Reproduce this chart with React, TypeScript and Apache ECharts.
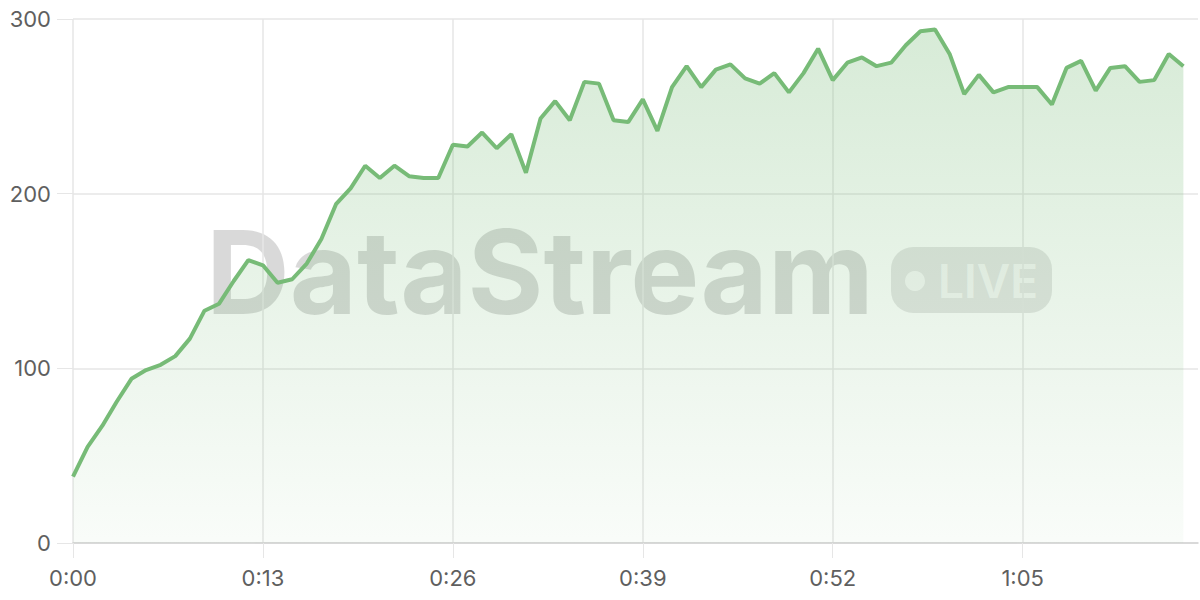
import React, { useEffect, useRef } from 'react';
import * as echarts from 'echarts';

// one sample per second, 0:00 .. 1:16
const throughput = [
  38, 55, 67, 81, 94, 99, 102, 107, 117, 133,
  137, 150, 162, 159, 149, 151, 160, 174, 194, 203,
  216, 209, 216, 210, 209, 209, 228, 227, 235, 226,
  234, 212, 243, 253, 242, 264, 263, 242, 241, 254,
  236, 261, 273, 261, 271, 274, 266, 263, 269, 258,
  269, 283, 265, 275, 278, 273, 275, 285, 293, 294,
  280, 257, 268, 258, 261, 261, 261, 251, 272, 276,
  259, 272, 273, 264, 265, 280, 273,
];

// axis runs one second past the last sample
const seconds = Array.from({ length: throughput.length + 1 }, (_, i) => i);
const timeLabels = seconds.map(s => `${Math.floor(s / 60)}:${String(s % 60).padStart(2, '0')}`);

const yTicks = [0, 100, 200, 300];

const LINE_GREEN = '#77bb77';
const GRID_GRAY = '#e6e6e6';

export default function App() {
  const chartRef = useRef<HTMLDivElement>(null);

  useEffect(() => {
    if (!chartRef.current) return;
    const chart = echarts.init(chartRef.current, undefined, { renderer: 'svg' });

    const option: echarts.EChartsOption = {
      animation: false,
      backgroundColor: '#ffffff',
      grid: { left: 73, right: 2, top: 19, bottom: 57 },
      graphic: [
        {
          type: 'text',
          x: 206,
          y: 272,
          silent: true,
          style: {
            text: 'DataStream',
            fontFamily: 'Inter',
            fontWeight: 'bold',
            fontSize: 116,
            fill: 'rgba(0,0,0,0.15)',
            textVerticalAlign: 'middle',
          },
        },
        {
          type: 'rect',
          silent: true,
          shape: { x: 891, y: 247, width: 161, height: 66, r: 22 },
          style: { fill: 'rgba(0,0,0,0.1)' },
        },
        {
          type: 'circle',
          silent: true,
          shape: { cx: 915, cy: 281, r: 10 },
          style: { fill: 'rgba(255,255,255,0.7)' },
        },
        {
          type: 'text',
          x: 938,
          y: 281,
          silent: true,
          style: {
            text: 'LIVE',
            fontFamily: 'Inter',
            fontWeight: 600,
            fontSize: 46,
            fill: 'rgba(255,255,255,0.7)',
            textVerticalAlign: 'middle',
          },
        },
      ],
      xAxis: {
        type: 'category',
        data: timeLabels,
        boundaryGap: false,
        axisLine: { lineStyle: { color: '#d2d2d2', width: 1.5 } },
        axisTick: { interval: 12, length: 15, lineStyle: { color: GRID_GRAY } },
        axisLabel: {
          interval: 12,
          margin: 24,
          color: '#5f5f5f',
          fontFamily: 'Inter',
          fontSize: 22,
        },
        splitLine: { show: true, interval: 12, lineStyle: { color: GRID_GRAY, width: 1.5 } },
      },
      yAxis: {
        type: 'value',
        min: yTicks[0],
        max: yTicks[yTicks.length - 1],
        interval: 100,
        axisLine: { show: false },
        axisTick: { show: true, length: 16, lineStyle: { color: GRID_GRAY } },
        axisLabel: {
          margin: 22,
          color: '#5f5f5f',
          fontFamily: 'Inter',
          fontSize: 22,
        },
        splitLine: { lineStyle: { color: GRID_GRAY, width: 1.5 } },
      },
      series: [
        {
          type: 'line',
          data: throughput,
          symbol: 'none',
          lineStyle: { color: LINE_GREEN, width: 4 },
          areaStyle: {
            color: new echarts.graphic.LinearGradient(0, 0, 0, 1, [
              { offset: 0, color: 'rgba(119,187,119,0.42)' },
              { offset: 1, color: 'rgba(119,187,119,0.06)' },
            ]),
          },
        },
      ],
    };

    chart.setOption(option);
    return () => chart.dispose();
  }, []);

  return (
    <div
      ref={chartRef}
      style={{ position: 'fixed', left: 0, top: 0, width: 1200, height: 600, background: '#fff' }}
    />
  );
}
